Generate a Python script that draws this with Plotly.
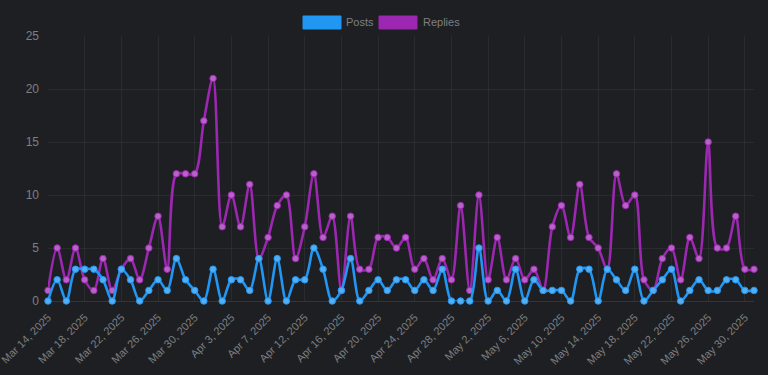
import plotly.graph_objects as go

dates = [
    "Mar 14, 2025", "Mar 15, 2025", "Mar 16, 2025", "Mar 17, 2025", "Mar 18, 2025", "Mar 19, 2025",
    "Mar 20, 2025", "Mar 21, 2025", "Mar 22, 2025", "Mar 23, 2025", "Mar 24, 2025", "Mar 25, 2025",
    "Mar 26, 2025", "Mar 27, 2025", "Mar 28, 2025", "Mar 29, 2025", "Mar 30, 2025", "Mar 31, 2025",
    "Apr 1, 2025", "Apr 2, 2025", "Apr 3, 2025", "Apr 4, 2025", "Apr 5, 2025", "Apr 6, 2025",
    "Apr 7, 2025", "Apr 8, 2025", "Apr 10, 2025", "Apr 11, 2025", "Apr 12, 2025", "Apr 13, 2025",
    "Apr 14, 2025", "Apr 15, 2025", "Apr 16, 2025", "Apr 17, 2025", "Apr 18, 2025", "Apr 19, 2025",
    "Apr 20, 2025", "Apr 21, 2025", "Apr 22, 2025", "Apr 23, 2025", "Apr 24, 2025", "Apr 25, 2025",
    "Apr 26, 2025", "Apr 27, 2025", "Apr 28, 2025", "Apr 29, 2025", "Apr 30, 2025", "May 1, 2025",
    "May 2, 2025", "May 3, 2025", "May 4, 2025", "May 5, 2025", "May 6, 2025", "May 7, 2025",
    "May 8, 2025", "May 9, 2025", "May 10, 2025", "May 11, 2025", "May 12, 2025", "May 13, 2025",
    "May 14, 2025", "May 15, 2025", "May 16, 2025", "May 17, 2025", "May 18, 2025", "May 19, 2025",
    "May 20, 2025", "May 21, 2025", "May 22, 2025", "May 23, 2025", "May 24, 2025", "May 25, 2025",
    "May 26, 2025", "May 27, 2025", "May 28, 2025", "May 29, 2025", "May 30, 2025", "May 31, 2025",
]

posts = [0, 2, 0, 3, 3, 3, 2, 0, 3, 2, 0, 1, 2, 1,
         4, 2, 1, 0, 3, 0, 2, 2, 1, 4, 0, 4, 0,
         2, 2, 5, 3, 0, 1, 4, 0, 1, 2, 1, 2, 2,
         1, 2, 1, 3, 0, 0, 0, 5, 0, 1, 0, 3, 0,
         2, 1, 1, 1, 0, 3, 3, 0, 3, 2, 1, 3, 0,
         1, 2, 3, 0, 1, 2, 1, 1, 2, 2, 1, 1]

replies = [1, 5, 2, 5, 2, 1, 4, 1, 3, 4, 2, 5, 8, 3,
           12, 12, 12, 17, 21, 7, 10, 7, 11, 4, 6, 9, 10,
           4, 7, 12, 6, 8, 1, 8, 3, 3, 6, 6, 5, 6,
           3, 4, 2, 4, 2, 9, 1, 10, 2, 6, 2, 4, 2,
           3, 1, 7, 9, 6, 11, 6, 5, 3, 12, 9, 10, 2,
           1, 4, 5, 2, 6, 4, 15, 5, 5, 8, 3, 3]

tick_labels = dates[::4]

BG = "#1d1f22"
GRID = "rgba(255,255,255,0.055)"
TXT = "#7d7f82"
BLUE = "#2196F3"
BLUE_PT = "#52aef5"
PURPLE = "#9C27B0"
PURPLE_PT = "#b862c9"
FONT = "Liberation Sans, Arial, sans-serif"

fig = go.Figure()
fig.add_trace(go.Scatter(
    x=dates, y=replies, name="Replies", mode="lines+markers",
    line=dict(color=PURPLE, width=2.6, shape="spline", smoothing=0.9),
    marker=dict(size=6.5, color=PURPLE_PT, line=dict(color=PURPLE, width=1)),
    cliponaxis=False, showlegend=False,
))
fig.add_trace(go.Scatter(
    x=dates, y=posts, name="Posts", mode="lines+markers",
    line=dict(color=BLUE, width=2.6, shape="spline", smoothing=0.9),
    marker=dict(size=6.5, color=BLUE_PT, line=dict(color=BLUE, width=1)),
    cliponaxis=False, showlegend=False,
))

L, R, T, B = 48, 14, 36, 74
W, H = 768, 375
pw, ph = W - L - R, H - T - B

def px_x(p):
    return (p - L) / pw

def px_y(p):
    return (H - B - p) / ph

shapes = [
    dict(type="rect", xref="paper", yref="paper",
         x0=px_x(303), x1=px_x(341), y0=px_y(29), y1=px_y(16),
         fillcolor=BLUE, line=dict(color=BLUE, width=1)),
    dict(type="rect", xref="paper", yref="paper",
         x0=px_x(379), x1=px_x(417), y0=px_y(29), y1=px_y(16),
         fillcolor=PURPLE, line=dict(color=PURPLE, width=1)),
]
annotations = [
    dict(xref="paper", yref="paper", x=px_x(344), y=px_y(22.5), text="Posts",
         showarrow=False, xanchor="left", yanchor="middle",
         font=dict(family=FONT, size=11, color=TXT)),
    dict(xref="paper", yref="paper", x=px_x(421), y=px_y(22.5), text="Replies",
         showarrow=False, xanchor="left", yanchor="middle",
         font=dict(family=FONT, size=11, color=TXT)),
]

fig.update_layout(
    width=W, height=H,
    margin=dict(l=L, r=R, t=T, b=B, pad=0, autoexpand=False),
    paper_bgcolor=BG, plot_bgcolor=BG,
    font=dict(family=FONT, size=12, color=TXT),
    showlegend=False,
    shapes=shapes, annotations=annotations,
    xaxis=dict(
        type="category", categoryorder="array", categoryarray=dates,
        range=[0, len(dates) - 1], automargin=False,
        tickmode="array", tickvals=tick_labels, ticktext=tick_labels,
        tickangle=-45, showgrid=True, gridcolor=GRID, gridwidth=1,
        showline=False, zeroline=False, ticks="",
        ticklabelstandoff=7,
        tickfont=dict(family=FONT, size=11, color=TXT),
    ),
    yaxis=dict(
        range=[0, 25], dtick=5, tick0=0, automargin=False,
        showgrid=True, gridcolor=GRID, gridwidth=1,
        zeroline=True, zerolinecolor="rgba(255,255,255,0.10)", zerolinewidth=1,
        showline=False, ticks="", ticklabelstandoff=8,
        tickfont=dict(family=FONT, size=12, color=TXT),
    ),
)

fig.write_html("out.html", config={"displayModeBar": False},
               post_script="document.body.style.margin='0';")
